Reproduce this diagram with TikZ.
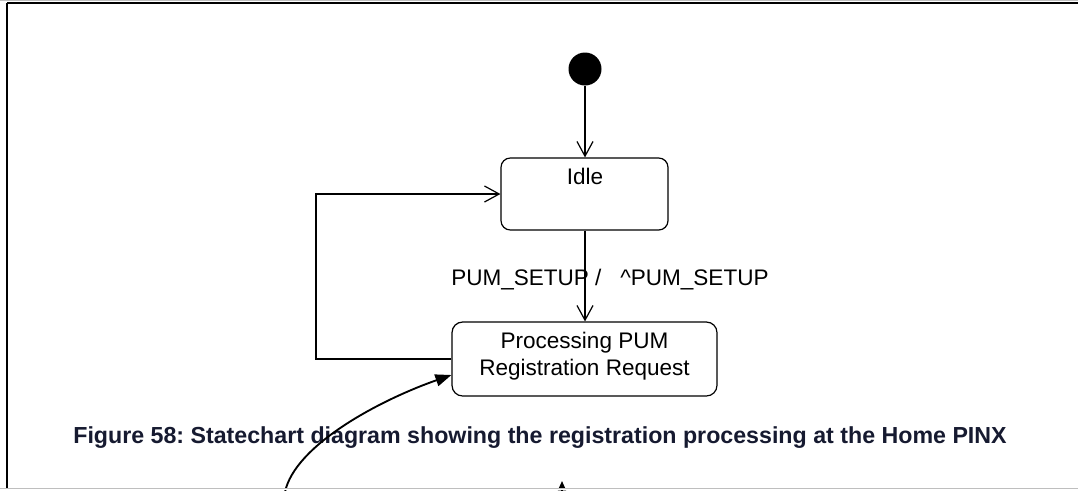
\documentclass[tikz,border=0pt]{standalone}
\usepackage{fontspec}
\setmainfont{Liberation Sans}
\usetikzlibrary{arrows.meta,calc}
\frenchspacing
\definecolor{captionink}{RGB}{22,26,48}
\definecolor{edgegray}{RGB}{190,190,190}
\tikzset{
  px/.style={x=0.75pt,y=-0.75pt},
  statebox/.style={draw,line width=0.9pt,rounded corners=7pt,inner sep=0pt},
  statetext/.style={inner sep=0pt,font=\fontsize{16.9}{20.25}\selectfont,align=center},
  trans/.style={line width=0.9pt,-{Straight Barb[length=11pt,width=12pt,line width=0.9pt]}},
  note/.style={line width=1.4pt,-{Triangle[length=12pt,width=9pt]}},
  framerule/.style={line width=1.6pt,black}
}
\begin{document}
\begin{tikzpicture}[px]
  % page area
  \fill[white] (0,0) rectangle (1078,490);
  \useasboundingbox (0,0) rectangle (1078,490);

  % frame around the figure
  \draw[edgegray,line width=0.8pt] (0,0.6) -- (1078,0.6);
  \draw[framerule] (7,3) -- (1078,3);
  \draw[framerule] (7,3) -- (7,490);

  % states
  \node[circle,fill=black,inner sep=0pt,minimum size=24.75pt] (init) at (585,69) {};
  \node[statebox,minimum width=125.25pt,minimum height=54pt] (idle) at (584.5,194) {};
  \node[statetext,anchor=base] (idletext) at (585,184) {Idle};
  \node[statebox,rounded corners=8pt,minimum width=198.75pt,minimum height=55.5pt] (proc) at (584.5,359) {};
  % base anchor of a two-line node sits on its last line
  \node[statetext,anchor=base] (proctext) at (584.5,375) {Processing PUM\\Registration Request};

  % transitions
  \draw[trans] (init) -- (idle.north -| init);
  \draw[trans] (idle.south -| init) -- (proc.north -| init);
  \draw[trans] (proc.west) -- (316,359) |- (idle.west);
  \node[statetext,anchor=base west] (evt) at (451,285) {PUM\_SETUP /\hspace{0.834em}\textasciicircum PUM\_SETUP};

  % caption
  \node[inner sep=0pt,anchor=base,text=captionink,font=\fontsize{17.4}{20}\selectfont\bfseries] (caption) at (540,443)
    {Figure 58: Statechart diagram showing the registration processing at the Home PINX};

  % pointer arrows coming from below
  \coordinate (curvefoot) at (285,492);
  \draw[note] (curvefoot) .. controls (295,445) and (380,400) .. ([yshift=-12pt]proc.west);
  \coordinate (stemfoot) at (562,496);
  \coordinate (stemtip) at (562,481);
  \draw[line width=1.2pt,-{Triangle[length=7pt,width=6pt]}] (stemfoot) -- (stemtip);

  % lower edge
  \draw[edgegray,line width=1pt] (0,488.5) -- (1078,488.5);
  \fill[white] (0,489.2) rectangle (1078,490);
\end{tikzpicture}
\end{document}
